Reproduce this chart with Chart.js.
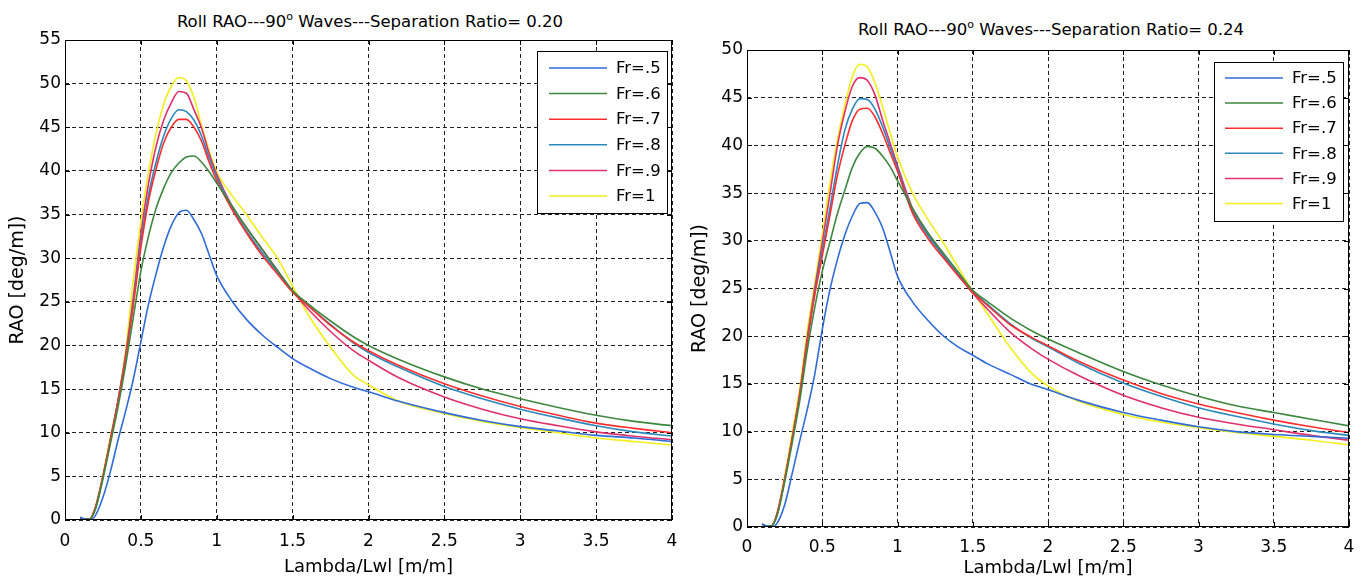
<!DOCTYPE html>
<html>
<head>
<meta charset="utf-8">
<script src="https://cdn.jsdelivr.net/npm/chart.js@4"></script>
<style>
  body { margin: 0; background: #fff; width: 1361px; height: 579px; overflow: hidden; position: relative; font-family: "DejaVu Sans", sans-serif; }
  canvas { position: absolute; top: 0; }
  #c1 { left: 0; }
  #c2 { left: 680px; }
  .ttl { position: absolute; white-space: nowrap; font-size: 16.5px; line-height: 20px; transform: translateX(-50%); color: #000; }
  .ttl sup { font-size: 11px; vertical-align: 7px; line-height: 0; }
</style>
</head>
<body>
<div class="ttl" style="left:370px;top:12px">Roll RAO---90<sup>o</sup> Waves---Separation Ratio= 0.20</div>
<div class="ttl" style="left:1051px;top:20px">Roll RAO---90<sup>o</sup> Waves---Separation Ratio= 0.24</div>
<canvas id="c1" width="680" height="579"></canvas>
<canvas id="c2" width="681" height="579"></canvas>
<script>
// Lambda/Lwl sample points (shared by every curve)
const lambda = [0.1, 0.13, 0.16, 0.2, 0.25, 0.3, 0.35, 0.4, 0.45, 0.5, 0.55, 0.6, 0.65, 0.7, 0.75, 0.8, 0.85, 0.9, 0.95, 1.0,
  1.1, 1.2, 1.3, 1.4, 1.5, 1.6, 1.75, 1.9, 2.0, 2.2, 2.5, 2.75, 3.0, 3.25, 3.5, 3.75, 4.0];

const frLabels = ["Fr=.5", "Fr=.6", "Fr=.7", "Fr=.8", "Fr=.9", "Fr=1"];
const frColors = ["#2f6bd9", "#3d873f", "#ff2e2e", "#2a88bd", "#e0306c", "#f2ee1a"];

// separation ratio 0.20
const sr20_fr05 = [0.3, 0.1, 0, 0.5, 2.6, 5.6, 9.2, 12.5, 16.1, 20.4, 24.7, 28.2, 31.3, 33.7, 35.2, 35.5, 34.4, 32.8, 30.4, 28.0,
  25.1, 22.9, 21.2, 19.8, 18.5, 17.5, 16.2, 15.2, 14.7, 13.6, 12.3, 11.4, 10.7, 10.2, 9.7, 9.4, 9.0];
const sr20_fr06 = [0.3, 0.1, 0.1, 1.2, 4.7, 8.8, 13.0, 17.8, 23.2, 28.5, 32.5, 35.7, 38.0, 39.8, 40.9, 41.6, 41.7, 41.0, 39.9, 38.6,
  36.0, 33.4, 31.0, 28.6, 26.3, 24.8, 22.8, 21.0, 20.0, 18.4, 16.4, 15.0, 13.9, 12.9, 12.0, 11.3, 10.8];
const sr20_fr07 = [0.3, 0.1, 0.1, 1.4, 5.0, 9.2, 13.6, 18.6, 24.6, 31.2, 36.5, 40.2, 43.2, 45.0, 45.9, 45.9, 45.0, 43.4, 41.0, 38.9,
  35.6, 32.8, 30.3, 28.2, 26.1, 24.6, 22.3, 20.4, 19.4, 17.7, 15.6, 14.2, 13.0, 12.0, 11.1, 10.5, 10.0];
const sr20_fr08 = [0.3, 0.1, 0.1, 1.3, 4.9, 9.2, 13.7, 18.8, 25.0, 31.8, 37.2, 41.0, 44.0, 46.0, 47.0, 46.8, 45.8, 44.0, 41.5, 39.3,
  35.8, 33.0, 30.6, 28.4, 26.2, 24.6, 22.4, 20.3, 19.2, 17.5, 15.3, 13.9, 12.7, 11.7, 10.8, 10.1, 9.6];
const sr20_fr09 = [0.3, 0.1, 0.1, 1.4, 5.0, 9.3, 13.8, 19.0, 25.5, 32.8, 38.5, 42.8, 45.8, 47.8, 49.1, 48.9, 47.0, 44.9, 42.0, 39.6,
  36.0, 33.4, 31.0, 28.6, 26.2, 24.2, 21.6, 19.4, 18.3, 16.3, 14.1, 12.7, 11.6, 10.8, 10.1, 9.6, 9.2];
const sr20_fr10 = [0.3, 0.1, 0.1, 1.5, 5.2, 9.6, 13.8, 19.5, 27.5, 34.2, 39.8, 44.3, 47.6, 49.7, 50.7, 50.3, 48.4, 45.2, 42.3, 39.9,
  37.2, 34.9, 32.4, 30.0, 26.8, 23.6, 19.8, 16.6, 15.5, 13.6, 12.2, 11.3, 10.6, 10.0, 9.4, 9.0, 8.6];

// separation ratio 0.24
const sr24_fr05 = [0.3, 0.1, 0, 0.4, 2.3, 5.6, 9.0, 12.3, 16.0, 20.7, 24.8, 28.0, 30.6, 32.6, 33.9, 34.0, 33.0, 31.4, 28.9, 26.3,
  23.6, 21.7, 20.1, 18.9, 18.0, 17.1, 16.0, 14.9, 14.4, 13.3, 12.0, 11.2, 10.5, 10.0, 9.7, 9.5, 9.3];
const sr24_fr06 = [0.3, 0.1, 0.1, 1.2, 4.7, 8.8, 13.2, 18.5, 23.0, 26.8, 29.8, 32.8, 35.3, 37.7, 39.2, 39.9, 39.7, 38.9, 37.8, 36.3,
  33.4, 30.9, 28.8, 26.8, 24.8, 23.6, 21.9, 20.5, 19.7, 18.3, 16.3, 14.9, 13.7, 12.7, 12.0, 11.3, 10.6];
const sr24_fr07 = [0.3, 0.1, 0.1, 1.4, 5.0, 9.2, 13.7, 19.3, 24.3, 28.4, 32.6, 36.8, 40.0, 42.6, 43.8, 43.9, 43.0, 41.3, 39.3, 37.3,
  32.9, 30.3, 28.3, 26.4, 24.6, 23.2, 21.2, 19.8, 19.0, 17.4, 15.4, 14.0, 12.9, 12.0, 11.2, 10.5, 9.9];
const sr24_fr08 = [0.3, 0.1, 0.1, 1.3, 4.9, 9.2, 13.8, 19.5, 24.6, 29.0, 33.3, 37.8, 41.6, 43.8, 44.9, 44.8, 43.8, 42.0, 39.8, 37.6,
  33.1, 30.6, 28.5, 26.6, 24.7, 23.3, 21.3, 19.7, 18.9, 17.2, 15.1, 13.7, 12.5, 11.6, 10.8, 10.1, 9.6];
const sr24_fr09 = [0.3, 0.1, 0.1, 1.4, 5.0, 9.3, 14.0, 19.8, 25.0, 29.8, 34.8, 39.9, 43.5, 46.2, 47.1, 46.8, 45.3, 42.7, 40.3, 37.9,
  33.4, 30.8, 28.6, 26.5, 24.5, 22.8, 20.4, 18.6, 17.6, 15.9, 13.8, 12.5, 11.5, 10.8, 10.2, 9.6, 9.1];
const sr24_fr10 = [0.3, 0.1, 0.1, 1.5, 5.3, 9.8, 14.5, 20.5, 25.5, 30.6, 36.0, 40.5, 44.2, 47.2, 48.5, 48.2, 46.6, 44.1, 41.4, 38.8,
  35.0, 32.3, 29.9, 27.3, 24.7, 22.3, 18.8, 16.0, 14.8, 13.2, 11.8, 11.0, 10.4, 9.9, 9.5, 9.1, 8.6];

const FONT = "'DejaVu Sans', sans-serif";
Chart.defaults.font.family = FONT;
Chart.defaults.color = "#000";

// axes box, inward ticks and the boxed legend, matlab style
const matlabBox = {
  id: "matlabBox",
  afterDraw(chart, args, o) {
    const { ctx, chartArea: a, scales } = chart;
    ctx.save();
    ctx.strokeStyle = "#000";
    ctx.lineWidth = 1;
    ctx.setLineDash([]);
    ctx.strokeRect(a.left + 0.5, a.top + 0.5, a.width - 1, a.height - 1);

    ctx.beginPath();
    scales.x.ticks.forEach(t => {
      const px = Math.round(scales.x.getPixelForValue(t.value)) + 0.5;
      ctx.moveTo(px, a.bottom); ctx.lineTo(px, a.bottom - 5);
      ctx.moveTo(px, a.top); ctx.lineTo(px, a.top + 5);
    });
    scales.y.ticks.forEach(t => {
      const py = Math.round(scales.y.getPixelForValue(t.value)) + 0.5;
      ctx.moveTo(a.left, py); ctx.lineTo(a.left + 5, py);
      ctx.moveTo(a.right, py); ctx.lineTo(a.right - 5, py);
    });
    ctx.stroke();

    const L = o.legend;
    ctx.fillStyle = "#fff";
    ctx.fillRect(L.x1, L.y1, L.x2 - L.x1, L.y2 - L.y1);
    ctx.strokeStyle = "#000";
    ctx.strokeRect(L.x1 + 0.5, L.y1 + 0.5, L.x2 - L.x1, L.y2 - L.y1);
    ctx.font = "16.5px " + FONT;
    ctx.textBaseline = "middle";
    chart.data.datasets.forEach((d, i) => {
      const yy = L.row0 + i * L.gap;
      ctx.strokeStyle = d.borderColor;
      ctx.lineWidth = 1.5;
      ctx.beginPath();
      ctx.moveTo(L.lx1, yy); ctx.lineTo(L.lx2, yy);
      ctx.stroke();
      ctx.fillStyle = "#000";
      ctx.fillText(d.label, L.tx, yy + 1);
    });
    ctx.restore();
  }
};

function makeChart(id, series, yMax, lay) {
  const datasets = series.map((arr, i) => ({
    label: frLabels[i],
    data: lambda.map((x, k) => ({ x: x, y: arr[k] })),
    borderColor: frColors[i],
    borderWidth: 1.6,
    pointRadius: 0,
    fill: false,
    cubicInterpolationMode: "monotone"
  }));

  return new Chart(document.getElementById(id), {
    type: "line",
    data: { datasets },
    options: {
      responsive: false,
      animation: false,
      layout: { padding: lay.padding },
      plugins: {
        legend: { display: false },
        tooltip: { enabled: false },
        matlabBox: { legend: lay.legend }
      },
      scales: {
        x: {
          type: "linear",
          min: 0, max: 4,
          afterFit: s => { s.height = lay.xHeight; s.paddingLeft = 0; s.paddingRight = 0; },
          ticks: {
            stepSize: 0.5, autoSkip: false, maxRotation: 0, padding: lay.xTickPad, font: { size: 17 },
            callback: v => String(Math.round(v * 10) / 10)
          },
          grid: { color: "#222", lineWidth: 1, drawTicks: false },
          border: { display: false, dash: [4, 3] },
          title: { display: true, text: "Lambda/Lwl [m/m]", font: { size: 18 }, padding: { top: 0, bottom: lay.xTitlePad } }
        },
        y: {
          min: 0, max: yMax,
          afterFit: s => { s.width = lay.yWidth; s.paddingTop = 0; s.paddingBottom = 0; },
          ticks: { stepSize: 5, padding: 4, font: { size: 17 } },
          grid: { color: "#222", lineWidth: 1, drawTicks: false },
          border: { display: false, dash: [4, 3] },
          title: { display: true, text: "RAO [deg/m])", font: { size: 19 }, padding: { top: lay.yTitlePad, bottom: 0 } }
        }
      }
    },
    plugins: [matlabBox]
  });
}

makeChart("c1", [sr20_fr05, sr20_fr06, sr20_fr07, sr20_fr08, sr20_fr09, sr20_fr10], 55, {
  padding: { top: 40, right: 8, left: 0, bottom: 0 },
  yWidth: 65, xHeight: 59, xTickPad: 11, xTitlePad: 1, yTitlePad: 7,
  legend: { x1: 537, y1: 51, x2: 667, y2: 213, row0: 68, gap: 25.6, lx1: 549, lx2: 607, tx: 616 }
});

makeChart("c2", [sr24_fr05, sr24_fr06, sr24_fr07, sr24_fr08, sr24_fr09, sr24_fr10], 50, {
  padding: { top: 50, right: 12, left: 0, bottom: 0 },
  yWidth: 67, xHeight: 52, xTickPad: 10, xTitlePad: 0, yTitlePad: 9,
  legend: { x1: 534, y1: 62, x2: 663, y2: 221, row0: 78, gap: 25.1, lx1: 545, lx2: 603, tx: 612 }
});
</script>
</body>
</html>
